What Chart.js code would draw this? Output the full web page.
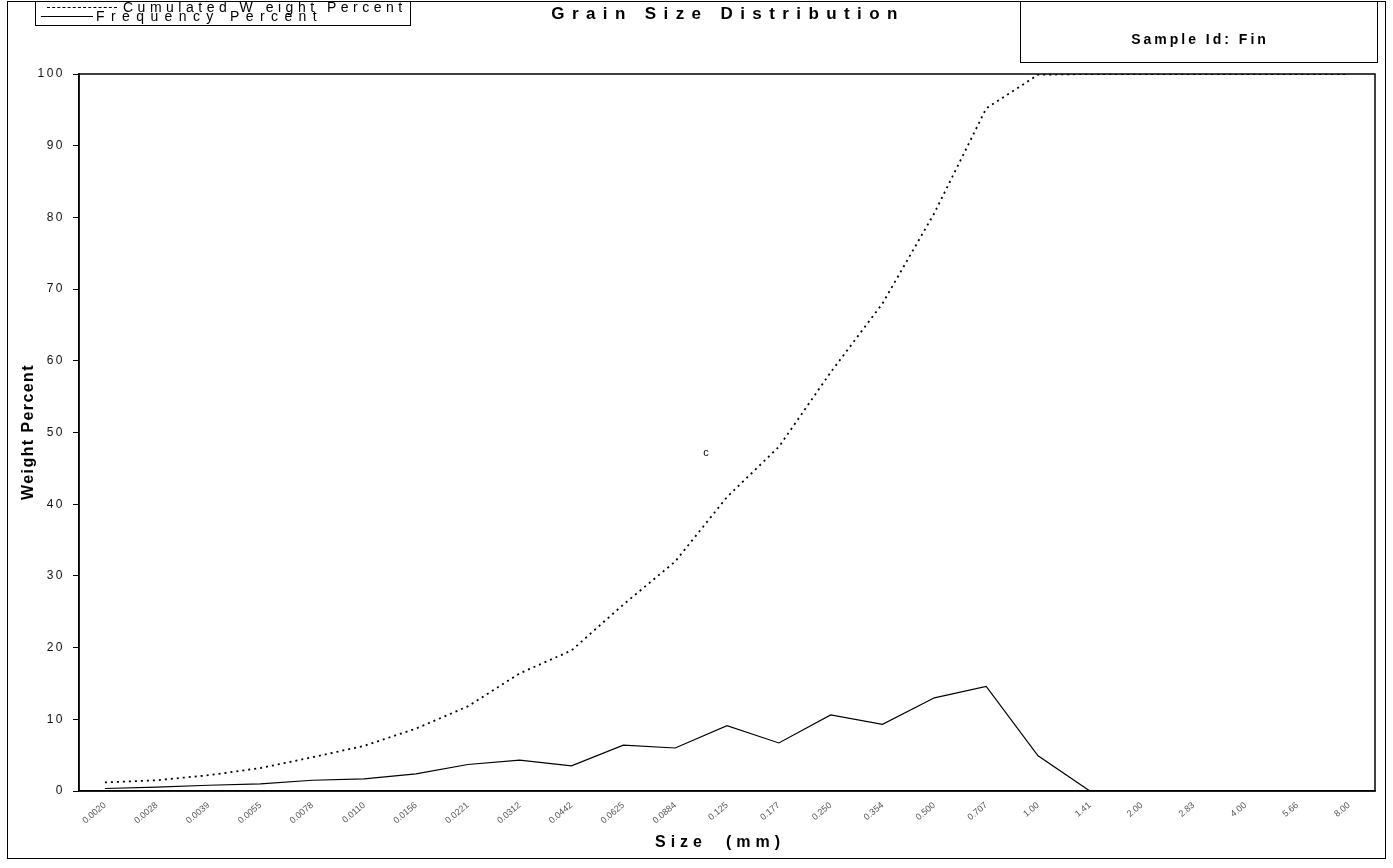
<!DOCTYPE html>
<html>
<head>
<meta charset="utf-8">
<title>Grain Size Distribution</title>
<script src="https://cdn.jsdelivr.net/npm/chart.js@4.4.1/dist/chart.umd.min.js"></script>
<style>
  html, body { margin: 0; padding: 0; background: #fff; }
  body { width: 1393px; height: 868px; position: relative; overflow: hidden;
         font-family: 'Liberation Sans', Arial, sans-serif; color: #000; }
  #wrap { position: absolute; left: 0; top: 0; width: 1393px; height: 868px; }
  .box { position: absolute; border: 1px solid #000; box-sizing: border-box; }
  .txt { position: absolute; white-space: nowrap; }
  .legend-row { position: absolute; left: 0; height: 12px; font-size: 14px; letter-spacing: 4.5px; line-height: 12px; }
  .legend-row .sample { position: absolute; top: 6px; height: 0; }
  .legend-row span.lbl { position: absolute; top: 0; }
</style>
</head>
<body>
<div id="wrap"><canvas id="grainChart" width="1393" height="868"></canvas></div>

<div class="box" style="left:7px; top:1px; width:1379px; height:858px;"></div>

<div class="box" style="left:35px; top:1px; width:376px; height:25px;">
  <div class="legend-row" style="top:-1px; width:374px;">
    <div class="sample" style="left:11px; width:70px; border-top:1.5px dashed #000;"></div>
    <span class="lbl" style="left:87px;">Cumulated W eight Percent</span>
  </div>
  <div class="legend-row" style="top:8px; width:374px; letter-spacing:6.4px;">
    <div class="sample" style="left:5px; width:52px; border-top:1px solid #000;"></div>
    <span class="lbl" style="left:60px;">Frequency Percent</span>
  </div>
</div>

<div class="txt" style="left:728px; top:4px; transform:translateX(-50%); font-weight:bold; font-size:17px; letter-spacing:7.4px;">Grain Size Distribution</div>

<div class="box" style="left:1020px; top:1px; width:358px; height:62px;"></div>
<div class="txt" style="left:1200px; top:31px; transform:translateX(-50%); font-weight:bold; font-size:14px; letter-spacing:3px;">Sample Id: Fin</div>

<div class="txt" style="left:706px; top:446px; transform:translateX(-50%); font-size:11px;">c</div>

<div class="txt" style="left:28px; top:432px; transform:translate(-50%,-50%) rotate(-90deg); font-weight:bold; font-size:16px; letter-spacing:1.4px;">Weight Percent</div>
<div class="txt" style="left:720px; top:833px; transform:translateX(-50%); font-weight:bold; font-size:16px; letter-spacing:5px;">Size&nbsp; (mm)</div>

<script>
Chart.defaults.font.family = "'Liberation Sans', Arial, sans-serif";
Chart.defaults.color = '#000';

// sieve sizes in mm
const sizeLabels = [
  '0.0020', '0.0028', '0.0039', '0.0055', '0.0078', '0.0110', '0.0156', '0.0221',
  '0.0312', '0.0442', '0.0625', '0.0884', '0.125', '0.177', '0.250', '0.354',
  '0.500', '0.707', '1.00', '1.41', '2.00', '2.83', '4.00', '5.66', '8.00'
];

const cumulatedWeight = [
  1.2, 1.5, 2.2, 3.2, 4.7, 6.3, 8.7, 11.8, 16.4, 19.6, 26.0, 32.0, 41.0,
  48.0, 58.4, 68.0, 80.6, 95.2, 99.9, 100, 100, 100, 100, 100, 100
];

const frequencyPercent = [
  0.35, 0.55, 0.8, 1.0, 1.5, 1.7, 2.4, 3.7, 4.3, 3.5, 6.4, 6.0, 9.1,
  6.7, 10.6, 9.3, 13.0, 14.6, 4.9, 0, 0, 0, 0, 0, 0
];

const yTicks = [0, 10, 20, 30, 40, 50, 60, 70, 80, 90, 100];

// wide-spaced y tick text, like the old spreadsheet output;
// the small rotated size labels stay unspaced
const spacing = {
  id: 'spacing',
  beforeLayout(chart) { chart.ctx.letterSpacing = '2.5px'; },
  afterLayout(chart) {
    const x = chart.scales.x;
    if (x._plainText) return;
    const drawLabels = x.drawLabels.bind(x);
    x.drawLabels = (area) => {
      chart.ctx.letterSpacing = '0px';
      drawLabels(area);
      chart.ctx.letterSpacing = '2.5px';
    };
    x._plainText = true;
  },
  beforeDraw(chart) { chart.ctx.letterSpacing = '2.5px'; }
};

// box around the plot area
const plotFrame = {
  id: 'plotFrame',
  afterDraw(chart) {
    const { ctx, chartArea: a } = chart;
    ctx.save();
    ctx.strokeStyle = '#000';
    ctx.lineWidth = 1.5;
    ctx.strokeRect(a.left, a.top, a.right - a.left, a.bottom - a.top);
    ctx.restore();
  }
};

new Chart(document.getElementById('grainChart'), {
  type: 'line',
  data: {
    labels: sizeLabels,
    datasets: [
      {
        label: 'Cumulated Weight Percent',
        data: cumulatedWeight,
        borderColor: '#000',
        borderWidth: 1.8,
        borderDash: [2, 4],
        pointRadius: 0,
        tension: 0,
        fill: false
      },
      {
        label: 'Frequency Percent',
        data: frequencyPercent,
        borderColor: '#000',
        borderWidth: 1.2,
        pointRadius: 0,
        tension: 0,
        fill: false
      }
    ]
  },
  options: {
    responsive: false,
    animation: false,
    layout: { padding: { left: 0, top: 74, right: 18, bottom: 0 } },
    plugins: {
      legend: { display: false },
      title: { display: false },
      tooltip: { enabled: false }
    },
    scales: {
      x: {
        type: 'category',
        offset: true,
        afterFit(scale) { scale.height = 77; },
        grid: { display: false },
        border: { display: true, color: '#000', width: 1.5 },
        ticks: {
          autoSkip: false,
          maxRotation: 40,
          minRotation: 40,
          padding: 1,
          color: '#555',
          font: { size: 9 }
        }
      },
      y: {
        min: 0,
        max: 100,
        afterFit(scale) { scale.width = 79; },
        afterBuildTicks(scale) { scale.ticks = yTicks.map(v => ({ value: v })); },
        grid: { drawOnChartArea: false, drawTicks: true, tickLength: 6, color: '#000', lineWidth: 1 },
        border: { display: true, color: '#000', width: 1.5 },
        ticks: {
          padding: 8,
          color: '#111',
          font: { size: 12 }
        }
      }
    }
  },
  plugins: [spacing, plotFrame]
});
</script>
</body>
</html>
